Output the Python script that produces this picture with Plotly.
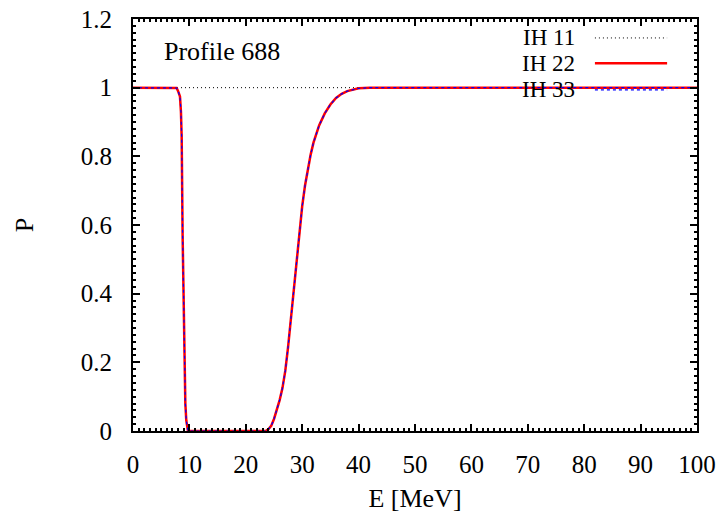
import plotly.graph_objects as go

# Data
E = [0, 7.0, 7.5, 7.74, 8.0, 8.33, 8.5, 8.63, 8.8, 9.04, 9.28, 9.45, 9.6, 9.75,
     12, 20, 23.5, 24.0, 24.5, 25.0, 25.5, 26.0, 26.5, 27.0, 27.5, 28.0, 28.5,
     29.0, 29.5, 30.0, 30.5, 31.0, 31.5, 32.0, 32.5, 33.0, 34.0, 35.0, 36.0,
     37.0, 38.0, 39.0, 40.0, 42.0, 50, 100]
P22 = [1, 1, 1, 0.999, 0.99, 0.974, 0.93, 0.857, 0.566, 0.275, 0.08, 0.03, 0.01, 0,
       0, 0, 0, 0.005, 0.015, 0.035, 0.06, 0.09, 0.125, 0.175, 0.245, 0.33, 0.42,
       0.505, 0.585, 0.655, 0.715, 0.765, 0.805, 0.84, 0.868, 0.89, 0.925, 0.951, 0.97,
       0.982, 0.99, 0.995, 0.998, 1.0, 1.0, 1.0]
P33 = list(P22)
E11 = [0, 100]
P11 = [1, 1]

series_names = ["IH 11", "IH 22", "IH 33"]
x_ticks = [0, 10, 20, 30, 40, 50, 60, 70, 80, 90, 100]
y_ticks = [0, 0.2, 0.4, 0.6, 0.8, 1, 1.2]
y_ticklabels = ["0", "0.2", "0.4", "0.6", "0.8", "1", "1.2"]

FONT = "Liberation Serif, Times New Roman, serif"
FS_TICK = 25
FS_TEXT = 26
FS_LEG = 23

fig = go.Figure()
fig.add_trace(go.Scatter(x=E11, y=P11, mode="lines", name=series_names[0],
                         line=dict(color="black", width=1, dash="1px,3px"), showlegend=False))
fig.add_trace(go.Scatter(x=E, y=P22, mode="lines", name=series_names[1],
                         line=dict(color="#ff0000", width=2.5), showlegend=False))
fig.add_trace(go.Scatter(x=E, y=P33, mode="lines", name=series_names[2],
                         line=dict(color="#0000ff", width=1.2, dash="3px,3px"), showlegend=False))

axis_common = dict(showgrid=False, zeroline=False, showline=True, linecolor="black",
                   linewidth=2, mirror="allticks", ticks="inside", ticklen=7,
                   tickwidth=1.5, tickcolor="black", automargin=False,
                   tickfont=dict(family=FONT, size=FS_TICK, color="black"))

fig.update_xaxes(range=[0, 100], tickvals=x_ticks, ticklabelstandoff=10,
                 minor=dict(ticks="inside", dtick=1, ticklen=3, tickwidth=1.5, tickcolor="black"),
                 title=dict(text="E [MeV]", font=dict(family=FONT, size=FS_TEXT, color="black"),
                            standoff=12),
                 **axis_common)
fig.update_yaxes(range=[0, 1.2], tickvals=y_ticks, ticktext=y_ticklabels, ticklabelstandoff=14,
                 minor=dict(ticks="inside", dtick=0.02, ticklen=3, tickwidth=1.5, tickcolor="black"),
                 title=dict(text="P", font=dict(family=FONT, size=FS_TEXT, color="black"),
                            standoff=40),
                 **axis_common)

# gnuplot-style legend: text right-aligned, sample line on the right
leg_y = [0.954, 0.8925, 0.828]
styles = [dict(color="black", width=1, dash="1px,3px"),
          dict(color="#ff0000", width=2.5),
          dict(color="#0000ff", width=1.2, dash="3px,3px")]
for name, yy, st in zip(series_names, leg_y, styles):
    fig.add_annotation(x=0.787, y=yy, xref="paper", yref="paper", text=name,
                       showarrow=False, xanchor="right", yanchor="middle",
                       font=dict(family=FONT, size=FS_LEG, color="black"))
    fig.add_shape(type="line", xref="paper", yref="paper", x0=0.819, x1=0.947,
                  y0=yy, y1=yy, line=st)

fig.add_annotation(x=0.0514, y=0.92, xref="paper", yref="paper", text="Profile 688",
                   showarrow=False, xanchor="left", yanchor="middle",
                   font=dict(family=FONT, size=FS_TEXT, color="black"))

fig.update_layout(width=724, height=513, plot_bgcolor="white", paper_bgcolor="white",
                  margin=dict(l=133, r=27, t=19, b=82), showlegend=False)

fig.write_html("out.html", config={"displayModeBar": False},
               post_script="document.body.style.margin='0px';document.body.style.overflow='hidden';")
